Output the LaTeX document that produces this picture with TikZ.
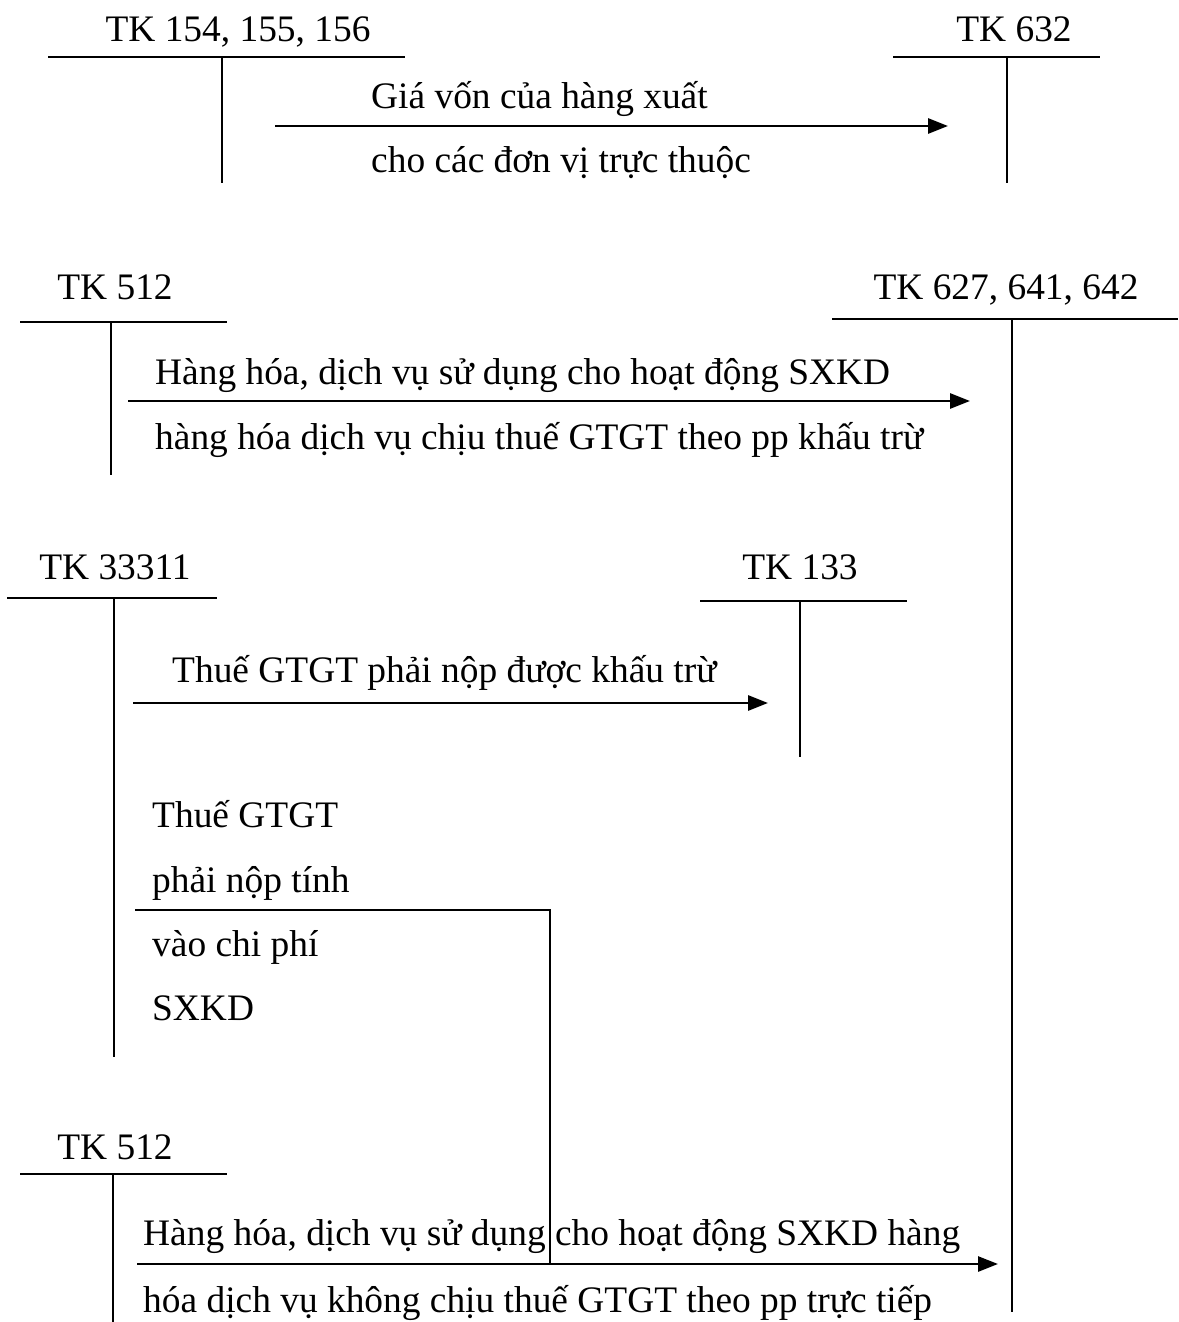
\documentclass[tikz,border=0pt]{standalone}
\usepackage{fontspec}
\setmainfont{Liberation Serif}
\usetikzlibrary{arrows.meta}

\begin{document}
\begin{tikzpicture}[x=1pt, y=-1pt,
    acc/.style={anchor=base, inner sep=0pt, font=\fontsize{37.4}{44}\selectfont},
    txt/.style={anchor=base west, inner sep=0pt, font=\fontsize{37.4}{44}\selectfont},
    rule/.style={line width=2pt},
    stem/.style={line width=1.6pt},
    flow/.style={line width=2.8pt, -{Triangle[length=20pt,width=15pt]}}]
  \useasboundingbox (0,0) rectangle (1178,1322);

  % TK 154, 155, 156 and TK 632
  \node[acc] (tk154) at (238,42) {TK 154, 155, 156};
  \draw[rule] (48,57) -- (405,57);
  \draw[stem] (222,57) -- (222,183);
  \node[acc] (tk632) at (1014,42) {TK 632};
  \draw[rule] (893,57) -- (1100,57);
  \draw[stem] (1007,57) -- (1007,183);

  \node[txt] (giavon) at (371,108) {Giá vốn của hàng xuất};
  \node[txt] (donvi) at (371,172) {cho các đơn vị trực thuộc};
  \coordinate (f1s) at (275,126);
  \coordinate (f1e) at (948,126);
  \draw[flow] (f1s) -- (f1e);

  % TK 512 and TK 627, 641, 642
  \node[acc] (tk512a) at (115,299) {TK 512};
  \draw[rule] (20,322) -- (227,322);
  \draw[stem] (111,322) -- (111,475);
  \node[acc] (tk627) at (1006,299) {TK 627, 641, 642};
  \draw[rule] (832,319) -- (1178,319);
  \draw[stem] (1012,319) -- (1012,1312);

  \node[txt] (hanghoa1) at (155,384) {Hàng hóa, dịch vụ sử dụng cho hoạt động SXKD};
  \node[txt] (khautru) at (155,449) {hàng hóa dịch vụ chịu thuế GTGT theo pp khấu trừ};
  \coordinate (f2s) at (128,401);
  \coordinate (f2e) at (970,401);
  \draw[flow] (f2s) -- (f2e);

  % TK 33311 and TK 133
  \node[acc] (tk33311) at (115,579) {TK 33311};
  \draw[rule] (7,598) -- (217,598);
  \draw[stem] (114,598) -- (114,1057);
  \node[acc] (tk133) at (800,579) {TK 133};
  \draw[rule] (700,601) -- (907,601);
  \draw[stem] (800,601) -- (800,757);

  \node[txt] (thue1) at (172,682) {Thuế GTGT phải nộp được khấu trừ};
  \coordinate (f3s) at (133,703);
  \coordinate (f3e) at (768,703);
  \draw[flow] (f3s) -- (f3e);

  \node[txt] (thue2) at (152,827) {Thuế GTGT};
  \node[txt] (phainop) at (152,892) {phải nộp tính};
  \node[txt] (chiphi) at (152,956) {vào chi phí};
  \node[txt] (sxkd) at (152,1020) {SXKD};
  \coordinate (f4s) at (135,910);
  \coordinate (f4m) at (550,910);
  \coordinate (f4e) at (550,1265);
  \draw[stem] (f4s) -- (f4m) -- (f4e);

  % TK 512
  \node[acc] (tk512b) at (115,1159) {TK 512};
  \draw[rule] (20,1174) -- (227,1174);
  \draw[stem] (113,1174) -- (113,1322);

  \node[txt] (hanghoa2) at (143,1245) {Hàng hóa, dịch vụ sử dụng cho hoạt động SXKD hàng};
  \node[txt] (tructiep) at (143,1312) {hóa dịch vụ không chịu thuế GTGT theo pp trực tiếp};
  \coordinate (f5s) at (137,1264);
  \coordinate (f5e) at (998,1264);
  \draw[flow] (f5s) -- (f5e);
\end{tikzpicture}
\end{document}
